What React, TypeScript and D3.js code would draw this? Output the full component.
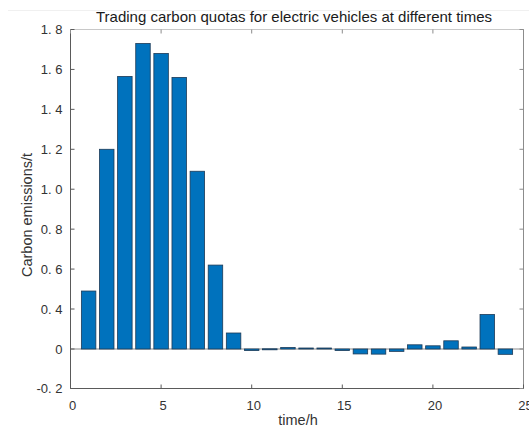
import React from "react";
import * as d3 from "d3";

const hours = d3.range(1, 25);
const emissions = [
  0.49, 1.2, 1.565, 1.73, 1.68, 1.56, 1.09, 0.62, 0.16, -0.008, 0.002, 0.015,
  0.01, 0.01, -0.008, -0.025, -0.026, -0.012, 0.042, 0.032, 0.082, 0.02, 0.345, -0.027,
];
const yTicks = [-0.2, 0, 0.4, 0.6, 0.8, 1.0, 1.2, 1.4, 1.6, 1.8];
const xTicks = [0, 5, 10, 15, 20, 25];

const W = 529;
const H = 433;
const L = 70.5;
const R = 523.5;
const T = 29.5;
const B = 388.5;

export default function App() {
  const x = d3.scaleLinear().domain([0, 25]).range([L, R]);
  // the reference axis is spaced unevenly: 0 → 0.4 takes one step, the rest 0.2 per step
  const y = d3
    .scaleLinear()
    .domain([-0.2, 0, 0.4, 1.8])
    .range([B, 349, 309, T]);
  const barW = 0.8;
  const fmt = (v: number) => (v === 0 ? "0" : v.toFixed(1).replace(".", ". "));
  const font = "'Liberation Sans', Arial, Helvetica, sans-serif";

  return (
    <svg
      width={W}
      height={H}
      style={{ position: "absolute", left: 0, top: 0, background: "#fff" }}
      fontFamily={font}
    >
      <rect x={0} y={0} width={W} height={H} fill="#fff" />
      <line x1={8} x2={W} y1={10.5} y2={10.5} stroke="#f0f0f0" />
      <text x={294} y={22} textAnchor="middle" fontSize={15} fill="#1a1a1a">
        Trading carbon quotas for electric vehicles at different times
      </text>

      {/* baseline */}
      <line x1={L} x2={R} y1={y(0)} y2={y(0)} stroke="#8a8a8a" strokeWidth={1} />

      {/* bars */}
      {hours.map((h, i) => {
        const v = emissions[i];
        const y0 = y(0);
        const y1 = y(v);
        return (
          <rect
            key={h}
            x={x(h - barW / 2)}
            y={Math.min(y0, y1)}
            width={x(barW) - x(0)}
            height={Math.max(Math.abs(y1 - y0), 1)}
            fill="#0072BD"
            stroke="#1d3a56"
            strokeWidth={0.8}
          />
        );
      })}

      {/* box */}
      <line x1={L} x2={R} y1={T} y2={T} stroke="#c8c8c8" />
      <line x1={R} x2={R} y1={T} y2={B} stroke="#8c8c8c" />
      <line x1={L} x2={L} y1={T} y2={B} stroke="#5a5a5a" />
      <line x1={L} x2={R} y1={B} y2={B} stroke="#5a5a5a" />

      {/* y ticks */}
      {yTicks.map((v) => (
        <g key={v}>
          <line x1={L} x2={L + 4} y1={y(v)} y2={y(v)} stroke="#5a5a5a" />
          <line x1={R} x2={R - 4} y1={y(v)} y2={y(v)} stroke="#8c8c8c" />
          <text
            x={L - 8}
            y={y(v)}
            dy="0.35em"
            textAnchor="end"
            fontSize={13}
            fill="#333"
          >
            {fmt(v)}
          </text>
        </g>
      ))}

      {/* x ticks */}
      {xTicks.map((v) => (
        <g key={v}>
          <line x1={x(v)} x2={x(v)} y1={B} y2={B - 4} stroke="#5a5a5a" />
          <line x1={x(v)} x2={x(v)} y1={T} y2={T + 4} stroke="#8c8c8c" />
          <text x={x(v) + 2} y={B + 21} textAnchor="middle" fontSize={13} fill="#333">
            {v}
          </text>
        </g>
      ))}

      <text x={298} y={425} textAnchor="middle" fontSize={14.5} fill="#333">
        time/h
      </text>
      <text
        transform={`translate(32,${(T + B) / 2 + 6}) rotate(-90)`}
        textAnchor="middle"
        fontSize={14.5}
        fill="#333"
      >
        Carbon emissions/t
      </text>
    </svg>
  );
}
